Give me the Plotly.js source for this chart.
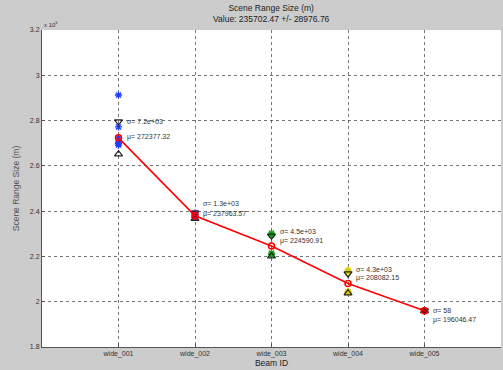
<!DOCTYPE html>
<html>
<head>
<meta charset="utf-8">
<script src="https://cdn.plot.ly/plotly-3.0.1.min.js"></script>
<style>
html,body{margin:0;padding:0;background:#cccccc;}
#chart{width:503px;height:370px;}
</style>
</head>
<body>
<div id="chart"></div>
<script>
// ---- data ----
const beamIds = ["wide_001", "wide_002", "wide_003", "wide_004", "wide_005"];
const meanValues = [272377.32, 237963.57, 224590.91, 208082.15, 196046.47];
const sigmaValues = [7200, 1300, 4500, 4300, 58];
const samples001 = [291300, 277200, 272400, 270500, 269800, 269200];
const samples002 = [239200, 238500, 237500, 237200];
const samples003 = [230300, 229500, 221500, 220800];
const samples004 = [214000, 213000, 204500, 204000];
const samples005 = [196100, 196000, 195950];
const overallTitle = "Scene Range Size (m)";
const overallValue = "Value: 235702.47 +/- 28976.76";
const yTickVals = [180000, 200000, 220000, 240000, 260000, 280000, 300000, 320000];
const yTickText = ["1.8", "2", "2.2", "2.4", "2.6", "2.8", "3", "3.2"];

// ---- label placement (layout only) ----
const sigmaLabelY = [279780, 243540, 230850, 214230, 195930];
const muLabelY = [272710, 238670, 226740, 210520, 191820];

const sampleSets = [samples001, samples002, samples003, samples004, samples005];
const sampleColors = ["#1f3dff", "#b000c0", "#10a010", "#d8d000", "#c00000"];

function fmtSigma(s) {
  if (s < 100) return String(Math.round(s));
  const e = Math.floor(Math.log10(s));
  const m = (s / Math.pow(10, e)).toFixed(1);
  return m + "e+" + String(e).padStart(2, "0");
}

const xPos = beamIds.map((_, i) => i + 1);
const traces = [];

sampleSets.forEach((set, i) => {
  traces.push({
    type: "scatter", mode: "markers",
    x: set.map(() => xPos[i]), y: set,
    marker: {symbol: "asterisk-open", size: 6, color: sampleColors[i], line: {width: 1.3, color: sampleColors[i]}},
    hoverinfo: "skip", showlegend: false
  });
});

traces.push({
  type: "scatter", mode: "markers",
  x: xPos, y: meanValues.map((m, i) => m + sigmaValues[i]),
  marker: {symbol: "triangle-down-open", size: 7, color: "#222", line: {width: 1.2, color: "#222"}},
  showlegend: false
});
traces.push({
  type: "scatter", mode: "markers",
  x: xPos, y: meanValues.map((m, i) => m - sigmaValues[i]),
  marker: {symbol: "triangle-up-open", size: 7, color: "#222", line: {width: 1.2, color: "#222"}},
  showlegend: false
});
traces.push({
  type: "scatter", mode: "lines+markers",
  x: xPos, y: meanValues,
  line: {color: "#ff0000", width: 1.6},
  marker: {symbol: "circle-open", size: 6, color: "#ff0000", line: {width: 1.5, color: "#ff0000"}},
  showlegend: false
});

const annotations = [];
beamIds.forEach((b, i) => {
  annotations.push({
    x: xPos[i] + 0.08, y: sigmaLabelY[i], xref: "x", yref: "y",
    text: "σ= " + fmtSigma(sigmaValues[i]), showarrow: false,
    xanchor: "left", yanchor: "middle", font: {size: 7, color: "#333"}
  });
  annotations.push({
    x: xPos[i] + 0.08, y: muLabelY[i], xref: "x", yref: "y",
    text: "μ= " + meanValues[i].toFixed(2), showarrow: false,
    xanchor: "left", yanchor: "middle", font: {size: 7, color: "#333"}
  });
});
annotations.push({
  x: 0, y: 1, xref: "paper", yref: "paper", xanchor: "left", yanchor: "bottom",
  text: "x 10<sup>5</sup>", showarrow: false, font: {size: 6, color: "#333"}
});
annotations.push({
  x: 0.5, y: 1, xref: "paper", yref: "paper", xanchor: "center", yanchor: "bottom",
  text: overallTitle + "<br>" + overallValue, showarrow: false,
  font: {size: 8.5, color: "#222"}, yshift: 4
});

const layout = {
  width: 503, height: 370,
  paper_bgcolor: "#cccccc", plot_bgcolor: "#ffffff",
  font: {family: "Liberation Sans, Arial, sans-serif", color: "#333"},
  margin: {l: 42, r: 2, t: 30, b: 23, pad: 0},
  showlegend: false,
  xaxis: {
    range: [0, 6], tickvals: xPos, ticktext: beamIds,
    tickfont: {size: 7, color: "#333"},
    showgrid: true, gridcolor: "#3a3a3a", griddash: "dot", gridwidth: 0.7,
    zeroline: false, showline: true, linecolor: "#555", linewidth: 1,
    ticks: "inside", ticklen: 3, tickcolor: "#555",
    title: {text: "Beam ID", font: {size: 8.5, color: "#222"}, standoff: 1}
  },
  yaxis: {
    range: [180000, 320000], tickvals: yTickVals, ticktext: yTickText,
    tickfont: {size: 7, color: "#333"},
    showgrid: true, gridcolor: "#3a3a3a", griddash: "dot", gridwidth: 0.7,
    zeroline: false, showline: true, linecolor: "#555", linewidth: 1,
    ticks: "inside", ticklen: 3, tickcolor: "#555",
    title: {text: "Scene Range Size (m)", font: {size: 8.5, color: "#555"}, standoff: 8}
  },
  annotations: annotations
};

Plotly.newPlot("chart", traces, layout, {displayModeBar: false, staticPlot: true});
</script>
</body>
</html>
